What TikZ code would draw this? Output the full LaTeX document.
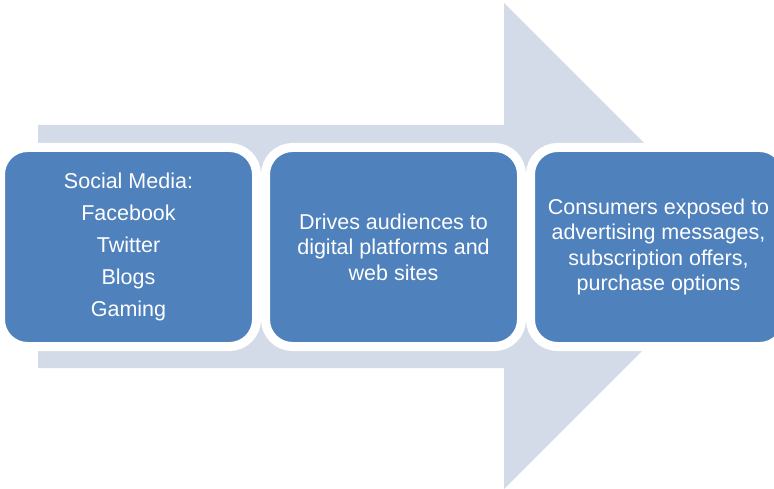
\documentclass[tikz,border=0pt]{standalone}
\usepackage{fontspec}
\setmainfont{Liberation Sans}
\usetikzlibrary{positioning}
\definecolor{arrowfill}{RGB}{211,218,232}
\definecolor{boxfill}{RGB}{79,129,189}
\begin{document}
\begin{tikzpicture}[
        x=1pt, y=-1pt,
        stage/.style={rectangle, rounded corners=27pt, draw=white, line width=9pt, fill=boxfill,
                      minimum width=256pt, minimum height=199pt, text=white, align=center,
                      font=\fontsize{21.5}{25.5}\selectfont},
        bigarrow/.style={fill=arrowfill, draw=none},
        node distance=0pt
    ]
    \useasboundingbox (0,0) rectangle (774,489);

    % Background arrow
    \fill[bigarrow] (38,125) -- (504,125) -- (504,3) -- (747,246) -- (504,489)
        -- (504,368) -- (38,368) -- cycle;

    % Stages
    \node[stage] (social) at (128.5,247) {Social Media:\\[6.5pt] Facebook\\[6.5pt] Twitter\\[6.5pt] Blogs\\[6.5pt] Gaming};
    \node[stage, right=of social] (drives) {Drives audiences to\\ digital platforms and\\ web sites};
    \node[stage, right=of drives] (consumers) {Consumers exposed to\\ advertising messages,\\ subscription offers,\\ purchase options};

\end{tikzpicture}
\end{document}
